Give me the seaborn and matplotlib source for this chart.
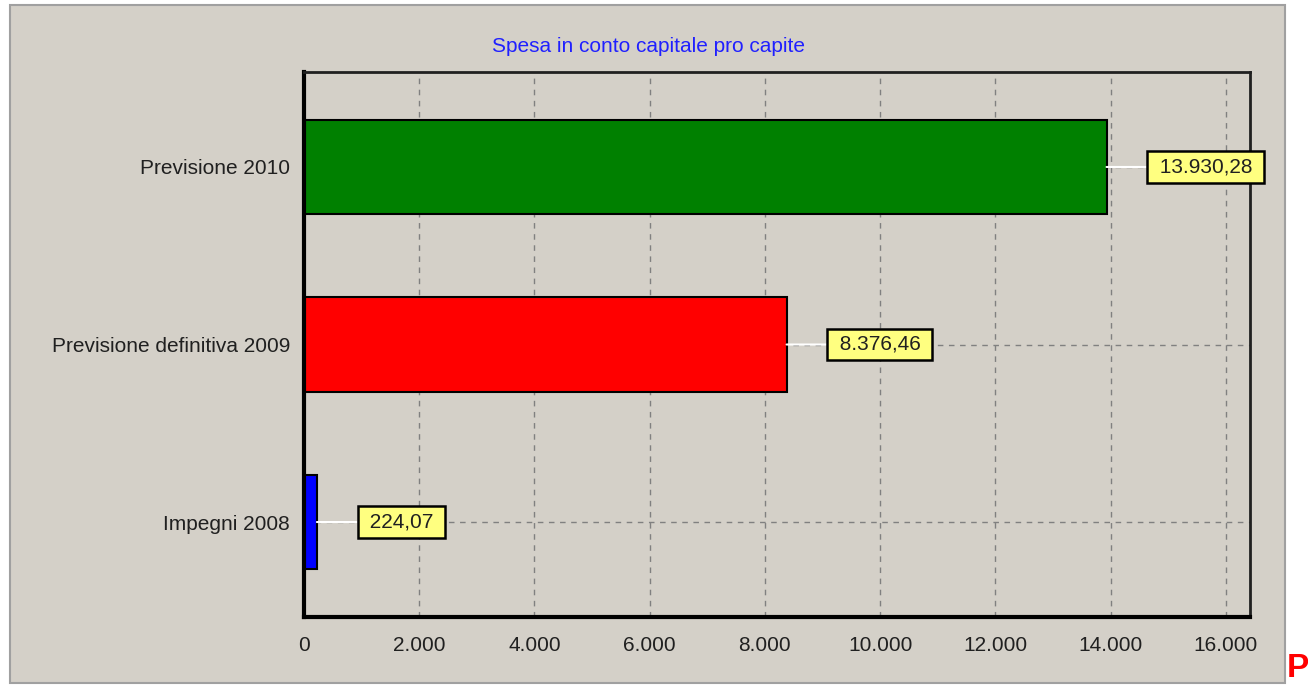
import matplotlib.pyplot as plt
import seaborn as sns
import pandas as pd
from matplotlib.patches import Rectangle
from matplotlib.ticker import FuncFormatter, MultipleLocator

# data
categories = ['Previsione 2010', 'Previsione definitiva 2009', 'Impegni 2008']
values = [13930.28, 8376.46, 224.07]
bar_colors = ['#008000', '#FF0000', '#0000FF']
title = 'Spesa in conto capitale pro capite'

BG = '#D4D0C8'
FS = 15


def it_number(v, decimals=0):
    s = f"{v:,.{decimals}f}"
    return s.replace(',', 'X').replace('.', ',').replace('X', '.')


def plot_spesa():
    df = pd.DataFrame({'categoria': categories, 'valore': values})

    sns.set_style('white')
    plt.rcParams['font.family'] = ['Liberation Sans', 'DejaVu Sans']

    fig = plt.figure(figsize=(13.08, 6.85), dpi=100)
    fig.patch.set_facecolor('white')
    # grey panel behind the chart
    fig.patches.append(Rectangle((10 / 1308, 2 / 685), 1275 / 1308, 678 / 685,
                                 transform=fig.transFigure, facecolor=BG,
                                 edgecolor='#A0A0A0', linewidth=1.5, zorder=-10))

    ax = fig.add_axes([304 / 1308, 1 - 617 / 685, 946 / 1308, 545 / 685])
    ax.set_facecolor(BG)

    sns.barplot(data=df, x='valore', y='categoria', hue='categoria',
                palette=bar_colors, orient='h', width=0.53, legend=False,
                edgecolor='black', linewidth=1.5, saturation=1, ax=ax)

    ax.set_xlim(0, 16420)
    ax.set_ylim(2.535, -0.535)
    ax.xaxis.set_major_locator(MultipleLocator(2000))
    ax.xaxis.set_minor_locator(MultipleLocator(500))
    ax.xaxis.set_major_formatter(FuncFormatter(lambda v, p: it_number(v)))

    ax.set_axisbelow(True)
    ax.grid(True, which='major', color='#808080', linestyle=(0, (4, 4)), linewidth=1)

    ax.set_xlabel('')
    ax.set_ylabel('')
    ax.tick_params(axis='x', which='major', length=6, width=1, direction='out',
                   labelsize=FS, pad=8, colors='#808080', labelcolor='#202020')
    ax.tick_params(axis='x', which='minor', length=3, width=1, direction='out',
                   colors='#808080')
    ax.tick_params(axis='y', length=4, width=1, direction='out', labelsize=FS,
                   pad=6, colors='#808080', labelcolor='#202020')

    for side in ['left', 'bottom']:
        ax.spines[side].set_linewidth(3)
        ax.spines[side].set_color('black')
    for side in ['top', 'right']:
        ax.spines[side].set_linewidth(2)
        ax.spines[side].set_color('#202020')

    # value labels with connector line
    for i, v in enumerate(values):
        ax.annotate(' ' + it_number(v, 2) + ' ', xy=(v, i), xytext=(47, 0),
                    textcoords='offset pixels', ha='left', va='center',
                    fontsize=FS, color='#202020', annotation_clip=False,
                    bbox=dict(boxstyle='square,pad=0.3', fc='#FFFF80',
                              ec='black', lw=1.8),
                    arrowprops=dict(arrowstyle='-', color='white', lw=1.5,
                                    shrinkA=0, shrinkB=0))

    fig.text(649 / 1308, 1 - 47 / 685, title, ha='center', va='center',
             fontsize=FS, color='#2020FF')
    fig.text(1287 / 1308, 1 / 685, 'P', ha='left', va='bottom',
             fontsize=24, fontweight='bold', color='#FF0000')

    plt.savefig('out.png', dpi=100, facecolor=fig.get_facecolor())
    plt.close()


if __name__ == "__main__":
    plot_spesa()
